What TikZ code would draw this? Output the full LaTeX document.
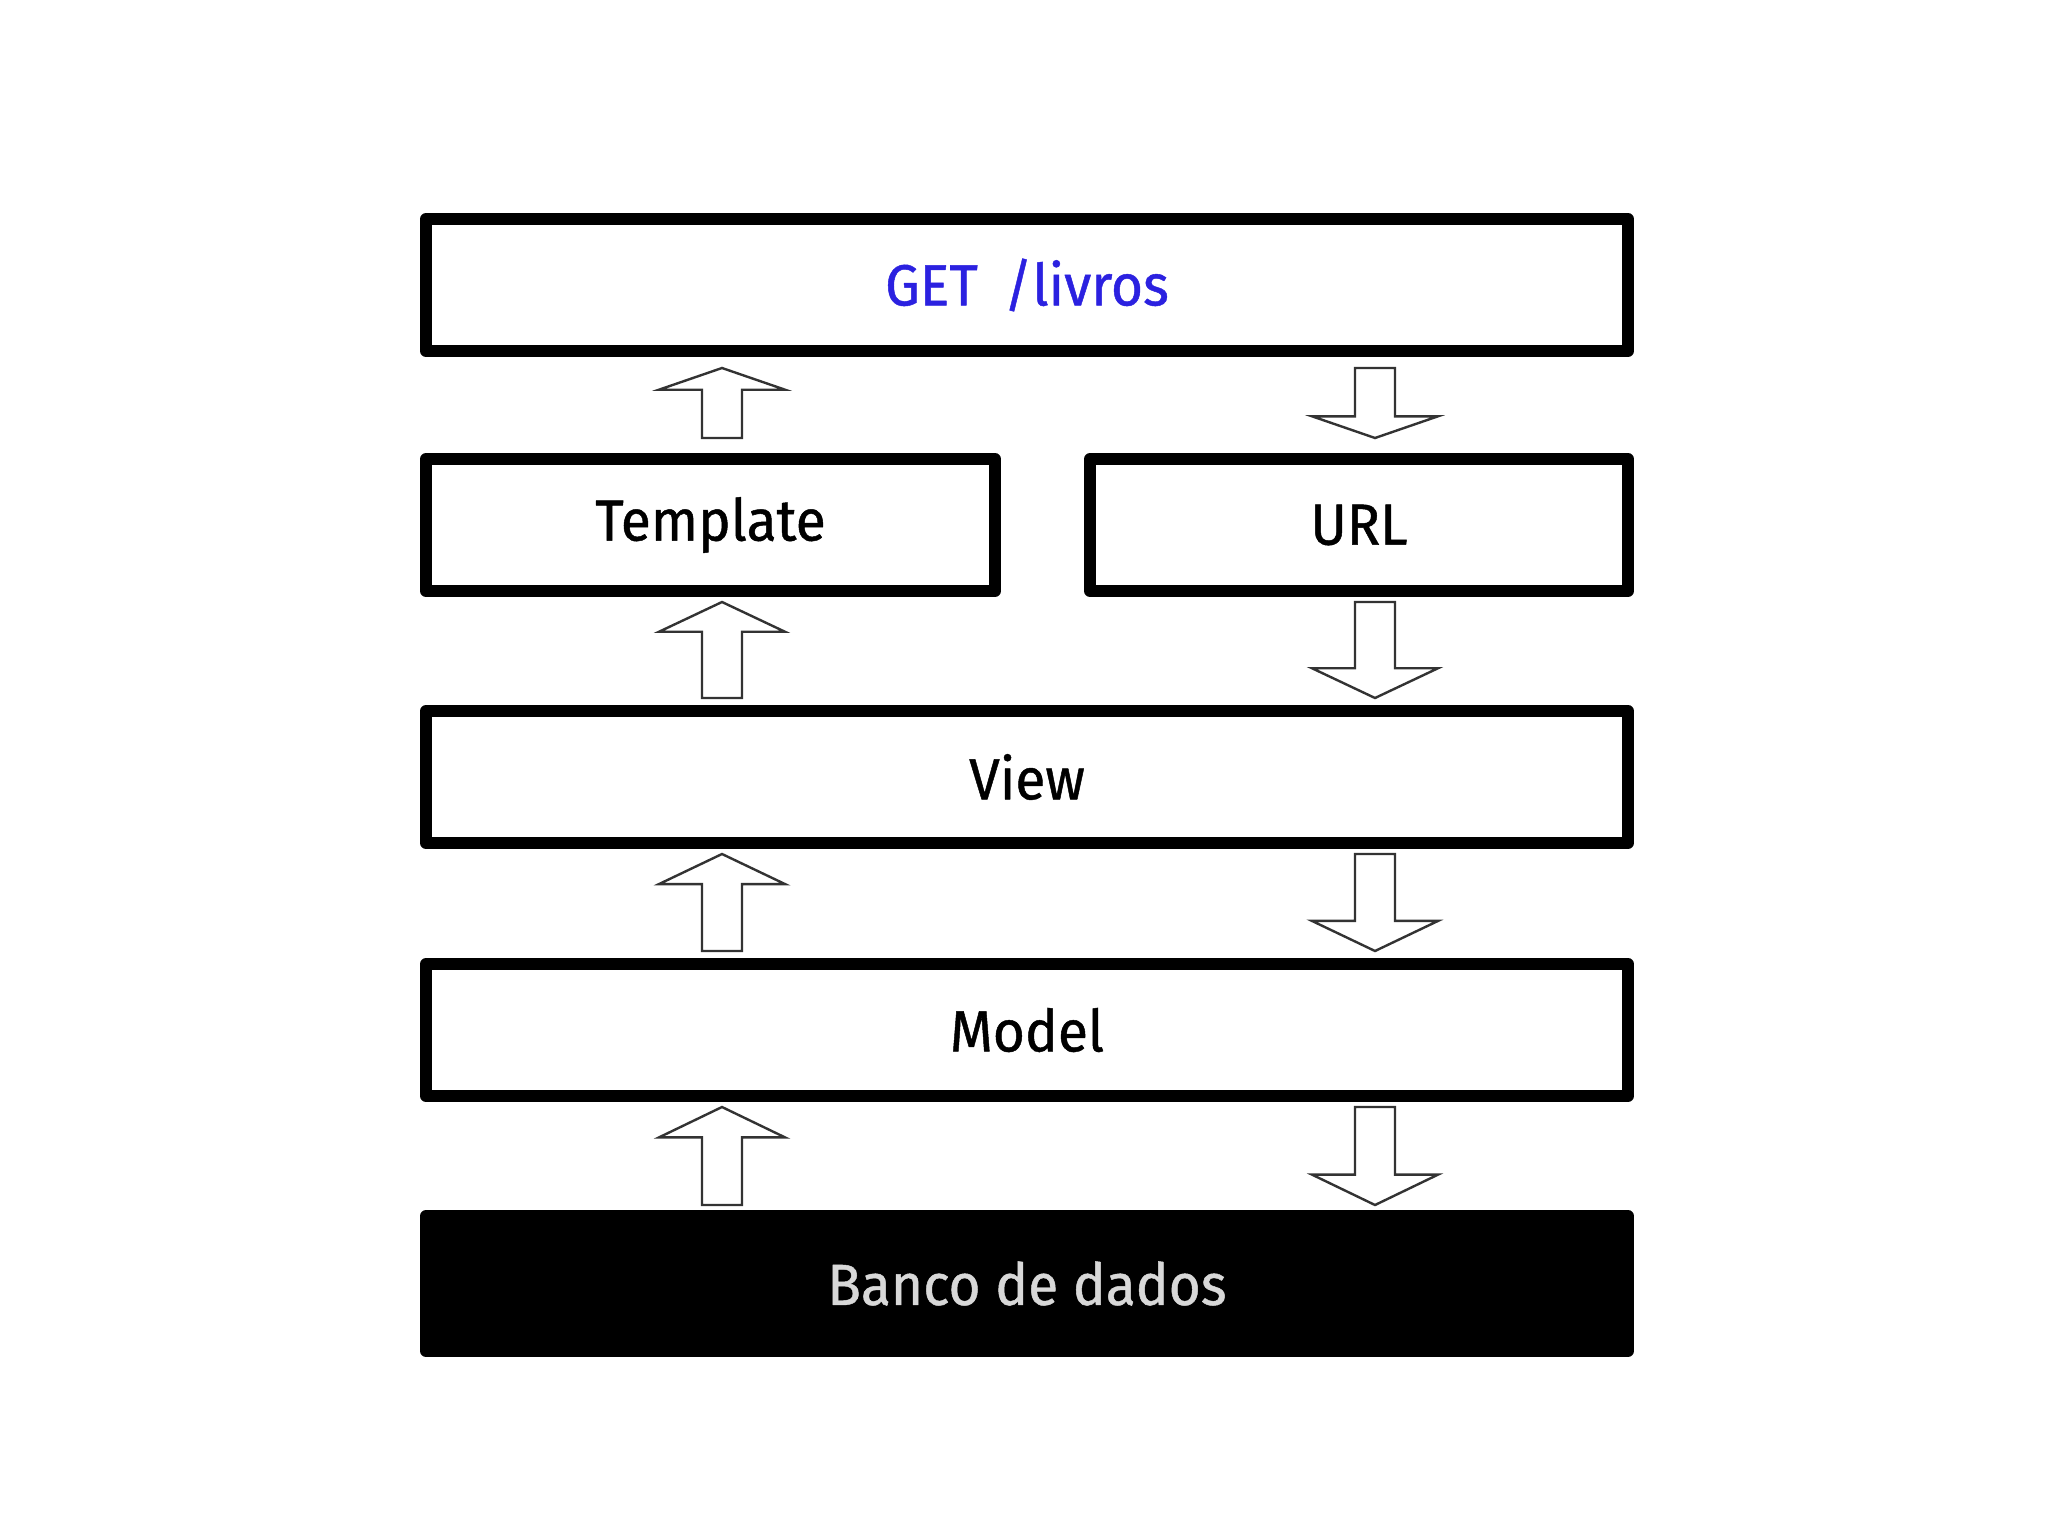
\documentclass[tikz,border=0pt]{standalone}
\usepackage{fontspec}
\setmainfont{Fira Sans}[FakeBold=0.8, FakeStretch=0.95]
\usepackage{tikz}
\usetikzlibrary{calc}

\definecolor{getblue}{RGB}{43,33,224}
\definecolor{dbgray}{RGB}{216,216,216}

\tikzset{
  layer/.style={draw, rectangle, line width=6pt, line join=round, minimum height=66pt,
    font=\fontsize{29}{34}\selectfont},
  hollow/.style={draw=black!80, line width=1.2pt, fill=white, line join=miter},
}

% hollow block arrow from #1 (tail) to #2 (tip)
\newcommand{\blockarrow}[2]{%
  \draw[hollow] let \p1=(#1), \p2=(#2), \p3=($(#1)!0.69!(#2)$) in
    (\x1-10pt,\y1) -- (\x1-10pt,\y3) -- (\x1-31.5pt,\y3) -- (\x2,\y2)
    -- (\x1+31.5pt,\y3) -- (\x1+10pt,\y3) -- (\x1+10pt,\y1) -- cycle;}

\begin{document}
\begin{tikzpicture}[x=0.5pt, y=-0.5pt]
\useasboundingbox (0,0) rectangle (2048,1535);

\node[layer, minimum width=601pt, text=getblue] (get) at (1027,285) {GET\hspace{13pt}/livros};
\node[layer, minimum width=284.5pt] (tpl) at (710.5,525) {Template};
\node[layer, minimum width=269pt] (url) at (1359,525) {URL};
\node[layer, minimum width=601pt] (view) at (1027,777) {View};
\node[layer, minimum width=601pt] (model) at (1027,1030) {Model};
\node[layer, minimum width=601pt, minimum height=67.5pt, fill=black, text=dbgray] (db) at (1027,1283.5) {Banco de dados};

% arrows up on the left, down on the right
\foreach \s/\e [count=\i] in {438/368, 698/602, 951/854, 1205/1107} {
  \coordinate (up\i) at (722,\s);
  \coordinate (up\i t) at (722,\e);
  \coordinate (dn\i) at (1375,\e);
  \coordinate (dn\i t) at (1375,\s);
  \blockarrow{up\i}{up\i t}
  \blockarrow{dn\i}{dn\i t}
}
\end{tikzpicture}
\end{document}
